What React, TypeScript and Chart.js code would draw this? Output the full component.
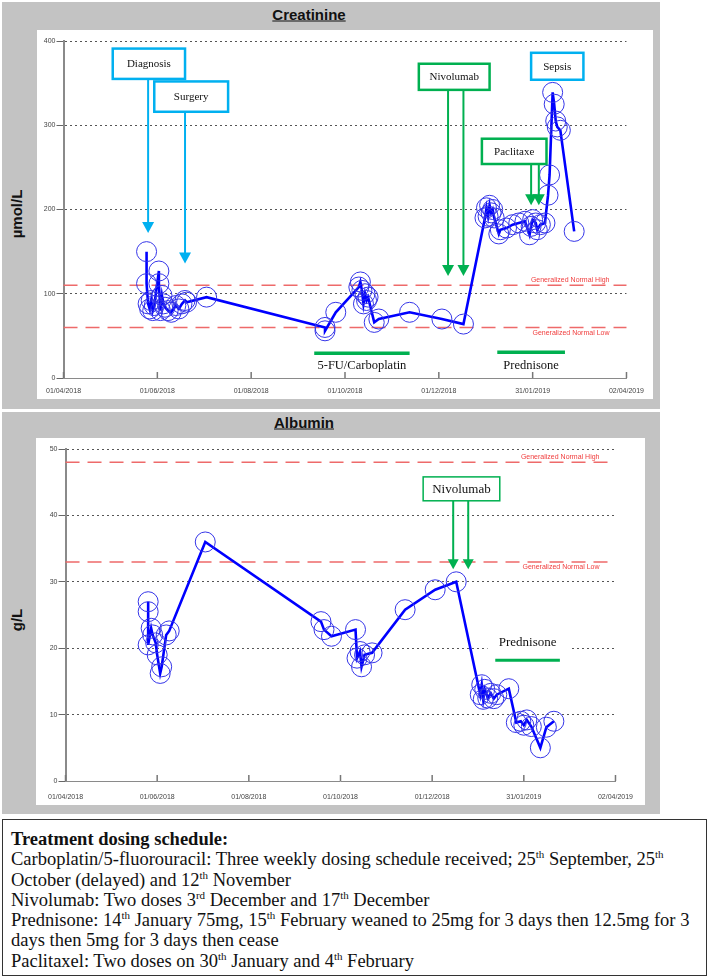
import React, { useEffect, useRef } from "react";
import { Chart, registerables } from "chart.js";

Chart.register(...registerables);

const SANS = "'Liberation Sans', Arial, sans-serif";
const SERIF = "'Liberation Serif', 'Times New Roman', serif";
const BLUE_CALLOUT = "#00B0F0";
const GREEN = "#00B050";

// ---------- shared x axis ----------
const xTickLabels = ["01/04/2018", "01/06/2018", "01/08/2018", "01/10/2018", "01/12/2018", "31/01/2019", "02/04/2019"];

// ---------- Creatinine (µmol/L) ----------
const creatinineDates = [
  "25/05/2018", "25/05/2018", "26/05/2018", "27/05/2018", "28/05/2018", "29/05/2018", "30/05/2018",
  "02/06/2018", "02/06/2018", "03/06/2018", "04/06/2018", "05/06/2018", "06/06/2018", "08/06/2018",
  "10/06/2018", "13/06/2018", "15/06/2018", "17/06/2018", "19/06/2018", "20/06/2018", "03/07/2018",
  "18/09/2018", "18/09/2018", "25/09/2018", "10/10/2018", "11/10/2018", "12/10/2018", "13/10/2018",
  "14/10/2018", "15/10/2018", "16/10/2018", "20/10/2018", "23/10/2018", "12/11/2018", "03/12/2018",
  "17/12/2018",
  "31/12/2018", "01/01/2019", "02/01/2019", "03/01/2019", "04/01/2019", "05/01/2019", "06/01/2019",
  "09/01/2019", "10/01/2019", "14/01/2019", "18/01/2019", "22/01/2019", "26/01/2019", "29/01/2019",
  "30/01/2019", "31/01/2019", "02/02/2019", "03/02/2019", "05/02/2019", "08/02/2019", "10/02/2019",
  "11/02/2019", "13/02/2019", "14/02/2019", "15/02/2019", "16/02/2019", "18/02/2019", "27/02/2019",
];
const creatinineValues = [
  150, 112, 88, 82, 92, 80, 86,
  127, 112, 80, 98, 88, 84, 80,
  78, 86, 82, 88, 92, 90, 96,
  60, 56, 78, 108, 114, 104, 88,
  100, 92, 96, 66, 70, 78, 70,
  64,
  190, 202, 192, 205, 196, 200, 190,
  171, 176, 178, 182, 184, 186, 170,
  180, 188, 184, 176, 182, 184, 217,
  241, 339, 325, 305, 298, 294, 174,
];
const creatinineNormalHigh = 110;
const creatinineNormalLow = 60;

// ---------- Albumin (g/L) ----------
const albuminDates = [
  "26/05/2018", "26/05/2018", "26/05/2018", "28/05/2018", "29/05/2018", "31/05/2018", "01/06/2018",
  "03/06/2018", "04/06/2018", "07/06/2018", "09/06/2018", "03/07/2018",
  "18/09/2018", "20/09/2018", "25/09/2018", "11/10/2018", "12/10/2018", "14/10/2018", "15/10/2018",
  "17/10/2018", "22/10/2018", "13/11/2018", "03/12/2018", "17/12/2018",
  "02/01/2019", "03/01/2019", "04/01/2019", "05/01/2019", "07/01/2019", "09/01/2019", "11/01/2019",
  "13/01/2019", "21/01/2019", "26/01/2019", "29/01/2019", "31/01/2019", "02/02/2019", "05/02/2019",
  "11/02/2019", "15/02/2019", "20/02/2019",
];
const albuminValues = [
  27, 25.5, 20.5, 23, 22, 20.8, 19,
  16.2, 17.2, 22, 22.6, 36,
  24, 22.8, 21.8, 22.8, 18.5, 19.5, 17.2,
  19, 19.3, 25.8, 28.8, 30,
  13, 14.5, 12.3, 13.8, 12.5, 13.2, 12.4,
  13, 13.9, 8.8, 9, 8.4, 9.2, 8.2,
  5, 8.1, 9,
];
const albuminNormalHigh = 48;
const albuminNormalLow = 33;

// ---------- annotations (placed in data space) ----------
const creatinineCallouts = [
  { text: "Diagnosis", color: BLUE_CALLOUT, from: "03/05/2018", to: "19/06/2018", top: 391, bottom: 355, arrows: ["26/05/2018"], tip: 172 },
  { text: "Surgery", color: BLUE_CALLOUT, from: "30/05/2018", to: "17/07/2018", top: 352, bottom: 316, arrows: ["19/06/2018"], tip: 136 },
  { text: "Nivolumab", color: GREEN, from: "18/11/2018", to: "03/01/2019", top: 373, bottom: 342, arrows: ["07/12/2018", "17/12/2018"], tip: 121 },
  { text: "Paclitaxe", color: GREEN, from: "29/12/2018", to: "09/02/2019", top: 284, bottom: 254, arrows: ["30/01/2019", "04/02/2019"], tip: 205 },
  { text: "Sepsis", color: BLUE_CALLOUT, from: "30/01/2019", to: "05/03/2019", top: 386, bottom: 354, arrows: [] as string[], tip: 0 },
];
const creatinineBars = [
  { text: "5-FU/Carboplatin", from: "11/09/2018", to: "12/11/2018", level: 29.5, labelLevel: 15, labelBg: false },
  { text: "Prednisone", from: "08/01/2019", to: "21/02/2019", level: 30.5, labelLevel: 15, labelBg: false },
];
const albuminCallouts = [
  { text: "Nivolumab", color: GREEN, from: "25/11/2018", to: "15/01/2019", top: 45.8, bottom: 42.2, arrows: ["15/12/2018", "25/12/2018"], tip: 31.9 },
];
const albuminBars = [
  { text: "Prednisone", from: "12/01/2019", to: "24/02/2019", level: 18.2, labelLevel: 20.9, labelBg: true },
];

// ---------- helpers ----------
const START = Date.UTC(2018, 3, 1);
function dayOf(s: string): number {
  const [d, m, y] = s.split("/").map(Number);
  return Math.round((Date.UTC(y, m - 1, d) - START) / 86400000);
}
const xTickDays = xTickLabels.map(dayOf);

const overlayPlugin = {
  id: "overlay",
  beforeDatasetsDraw(chart: any, _a: any, o: any) {
    const { ctx, chartArea: a } = chart;
    const x = chart.scales.x, y = chart.scales.y;
    ctx.save();
    for (const r of o.refs) {
      const py = y.getPixelForValue(r.value);
      ctx.strokeStyle = "#EE6A6A";
      ctx.lineWidth = 1.5;
      ctx.setLineDash([14, 8]);
      ctx.beginPath();
      ctx.moveTo(a.left, py);
      ctx.lineTo(a.right, py);
      ctx.stroke();
      ctx.setLineDash([]);
      ctx.fillStyle = "#F03C3C";
      ctx.font = `7px ${SANS}`;
      ctx.textAlign = "right";
      ctx.textBaseline = r.above ? "bottom" : "top";
      ctx.fillText(r.label, a.right - o.refLabelInset, r.above ? py - 1.5 : py + 2);
    }
    for (const b of o.bars) {
      const x0 = x.getPixelForValue(dayOf(b.from));
      const x1 = x.getPixelForValue(dayOf(b.to));
      const by = y.getPixelForValue(b.level);
      const ly = y.getPixelForValue(b.labelLevel);
      const cx = (x0 + x1) / 2;
      ctx.font = `${o.barFont}px ${SERIF}`;
      if (b.labelBg) {
        ctx.fillStyle = "#fff";
        ctx.fillRect(cx - 40, ly - 9, 84, 17);
      }
      ctx.strokeStyle = GREEN;
      ctx.lineWidth = o.barWidth;
      ctx.beginPath();
      ctx.moveTo(x0, by);
      ctx.lineTo(x1, by);
      ctx.stroke();
      ctx.fillStyle = "#111";
      ctx.textAlign = "center";
      ctx.textBaseline = "middle";
      ctx.fillText(b.text, cx, ly);
    }
    ctx.restore();
  },
  afterDatasetsDraw(chart: any, _a: any, o: any) {
    const { ctx } = chart;
    const x = chart.scales.x, y = chart.scales.y;
    ctx.save();
    for (const c of o.callouts) {
      const l = x.getPixelForValue(dayOf(c.from));
      const r = x.getPixelForValue(dayOf(c.to));
      const t = y.getPixelForValue(c.top);
      const b = y.getPixelForValue(c.bottom);
      ctx.strokeStyle = c.color;
      ctx.fillStyle = c.color;
      ctx.lineWidth = 2;
      for (const ad of c.arrows) {
        const ax = x.getPixelForValue(dayOf(ad));
        const ty = y.getPixelForValue(c.tip);
        const hh = o.head, hw = o.head / 2 + 0.5;
        ctx.beginPath();
        ctx.moveTo(ax, b);
        ctx.lineTo(ax, ty - hh + 1);
        ctx.stroke();
        ctx.beginPath();
        ctx.moveTo(ax - hw, ty - hh);
        ctx.lineTo(ax + hw, ty - hh);
        ctx.lineTo(ax, ty);
        ctx.closePath();
        ctx.fill();
      }
      ctx.fillStyle = "#fff";
      ctx.fillRect(l, t, r - l, b - t);
      ctx.lineWidth = o.boxBorder;
      ctx.strokeRect(l, t, r - l, b - t);
      ctx.fillStyle = "#111";
      ctx.font = `${o.boxFont}px ${SERIF}`;
      ctx.textAlign = "center";
      ctx.textBaseline = "middle";
      ctx.fillText(c.text, (l + r) / 2, (t + b) / 2 + 0.5);
    }
    ctx.restore();
  },
  afterDraw(chart: any) {
    const { ctx, chartArea: a } = chart;
    const x = chart.scales.x;
    ctx.save();
    ctx.strokeStyle = "#777";
    ctx.lineWidth = 1.5;
    for (const v of xTickDays) {
      const px = x.getPixelForValue(v);
      ctx.beginPath();
      ctx.moveTo(px, a.bottom);
      ctx.lineTo(px, a.bottom - 6);
      ctx.stroke();
    }
    ctx.restore();
  },
};

type ChartSpec = {
  dates: string[];
  values: number[];
  yMax: number;
  yStep: number;
  high: number;
  low: number;
  callouts: any[];
  bars: any[];
  yWidth: number;
  xHeight: number;
  padRight: number;
  xLabelPad: number;
  boxBorder: number;
  boxFont: number;
  head: number;
  barFont: number;
  barWidth: number;
  refLabelInset: number;
};

function makeConfig(s: ChartSpec): any {
  const tickFont = { family: SANS, size: 7 };
  return {
    type: "line",
    data: {
      datasets: [
        {
          data: s.dates.map((d, i) => ({ x: dayOf(d), y: s.values[i] })),
          borderColor: "#0000FF",
          borderWidth: 2.6,
          pointRadius: 10,
          pointHoverRadius: 10,
          pointBorderWidth: 1,
          pointBorderColor: "#3535E8",
          pointBackgroundColor: "rgba(0,0,0,0)",
          tension: 0,
          fill: false,
        },
      ],
    },
    options: {
      responsive: false,
      animation: false,
      events: [],
      layout: { padding: { top: 8, right: s.padRight, left: 0, bottom: 0 } },
      plugins: {
        legend: { display: false },
        tooltip: { enabled: false },
        overlay: {
          refs: [
            { value: s.high, label: "Generalized Normal High", above: true },
            { value: s.low, label: "Generalized Normal Low", above: false },
          ],
          callouts: s.callouts,
          bars: s.bars,
          boxBorder: s.boxBorder,
          boxFont: s.boxFont,
          head: s.head,
          barFont: s.barFont,
          barWidth: s.barWidth,
          refLabelInset: s.refLabelInset,
        },
      },
      scales: {
        x: {
          type: "linear",
          min: xTickDays[0],
          max: xTickDays[xTickDays.length - 1],
          afterBuildTicks: (sc: any) => {
            sc.ticks = xTickDays.map((v) => ({ value: v }));
          },
          afterFit: (sc: any) => {
            sc.height = s.xHeight;
          },
          ticks: {
            autoSkip: false,
            maxRotation: 0,
            minRotation: 0,
            padding: s.xLabelPad,
            font: tickFont,
            color: "#444",
            callback: (v: number) => xTickLabels[xTickDays.indexOf(v)] ?? "",
          },
          grid: { display: false, drawTicks: false, tickLength: 0 },
          border: { display: true, color: "#8a8a8a", width: 1 },
        },
        y: {
          min: 0,
          max: s.yMax,
          afterFit: (sc: any) => {
            sc.width = s.yWidth;
          },
          ticks: { stepSize: s.yStep, padding: 1, font: tickFont, color: "#444" },
          grid: {
            color: (c: any) => (c.tick && c.tick.value === 0 ? "rgba(0,0,0,0)" : "#555"),
            lineWidth: 1,
            tickLength: 7,
            tickColor: "#666",
            tickWidth: 1,
          },
          border: { display: true, color: "#8a8a8a", width: 2, dash: [2, 3] },
        },
      },
    },
    plugins: [overlayPlugin],
  };
}

function LabChart({ spec, left, top, width, height }: { spec: ChartSpec; left: number; top: number; width: number; height: number }) {
  const ref = useRef<HTMLCanvasElement>(null);
  useEffect(() => {
    const chart = new Chart(ref.current as HTMLCanvasElement, makeConfig(spec));
    return () => chart.destroy();
  }, []);
  return (
    <canvas
      ref={ref}
      width={width}
      height={height}
      style={{ position: "absolute", left, top, width, height, background: "#fff", display: "block" }}
    />
  );
}

const creatinineSpec: ChartSpec = {
  dates: creatinineDates,
  values: creatinineValues,
  yMax: 400,
  yStep: 100,
  high: creatinineNormalHigh,
  low: creatinineNormalLow,
  callouts: creatinineCallouts,
  bars: creatinineBars,
  yWidth: 25,
  xHeight: 21,
  padRight: 24,
  xLabelPad: 9,
  boxBorder: 2.5,
  boxFont: 11,
  head: 11,
  barFont: 12.5,
  barWidth: 3.5,
  refLabelInset: 17,
};

const albuminSpec: ChartSpec = {
  dates: albuminDates,
  values: albuminValues,
  yMax: 50,
  yStep: 10,
  high: albuminNormalHigh,
  low: albuminNormalLow,
  callouts: albuminCallouts,
  bars: albuminBars,
  yWidth: 23,
  xHeight: 24,
  padRight: 25,
  xLabelPad: 12,
  boxBorder: 1.5,
  boxFont: 13,
  head: 10,
  barFont: 13,
  barWidth: 3,
  refLabelInset: 16,
};

const sup: React.CSSProperties = { fontSize: 11, position: "relative", top: -7, lineHeight: 0 };

export default function App() {
  const panelTitle: React.CSSProperties = {
    position: "absolute",
    fontFamily: SANS,
    fontWeight: "bold",
    fontSize: 15,
    textDecoration: "underline",
    transform: "translate(-50%, -50%)",
    whiteSpace: "nowrap",
    color: "#111",
  };
  const axisTitle: React.CSSProperties = {
    position: "absolute",
    fontFamily: SANS,
    fontWeight: "bold",
    fontSize: 15,
    transform: "translate(-50%, -50%) rotate(-90deg)",
    whiteSpace: "nowrap",
    color: "#111",
  };
  return (
    <div style={{ position: "absolute", left: 0, top: 0, width: 709, height: 980, background: "#fff", overflow: "hidden" }}>
      {/* Creatinine panel */}
      <div style={{ position: "absolute", left: 2, top: 2, width: 658, height: 407, background: "#C3C3C3" }} />
      <div style={{ ...panelTitle, left: 309, top: 14 }}>Creatinine</div>
      <div style={{ ...axisTitle, left: 16, top: 214 }}>µmol/L</div>
      <LabChart spec={creatinineSpec} left={37} top={30} width={616} height={369} />

      {/* Albumin panel */}
      <div style={{ position: "absolute", left: 2, top: 412, width: 658, height: 402, background: "#C3C3C3" }} />
      <div style={{ ...panelTitle, left: 304, top: 422 }}>Albumin</div>
      <div style={{ ...axisTitle, left: 16, top: 620 }}>g/L</div>
      <LabChart spec={albuminSpec} left={36} top={438} width={609} height={367} />

      {/* Treatment text box */}
      <div
        style={{
          position: "absolute",
          left: 2,
          top: 819,
          width: 705,
          height: 157,
          boxSizing: "border-box",
          border: "1.5px solid #333",
          padding: "9px 0 0 8px",
          fontFamily: SERIF,
          fontSize: 18.5,
          lineHeight: "20.3px",
          color: "#111",
          whiteSpace: "nowrap",
        }}
      >
        <div style={{ fontWeight: "bold" }}>Treatment dosing schedule:</div>
        <div>
          Carboplatin/5-fluorouracil: Three weekly dosing schedule received; 25<span style={sup}>th</span> September, 25<span style={sup}>th</span>
        </div>
        <div>
          October (delayed) and 12<span style={sup}>th</span> November
        </div>
        <div>
          Nivolumab: Two doses 3<span style={sup}>rd</span> December and 17<span style={sup}>th</span> December
        </div>
        <div>
          Prednisone: 14<span style={sup}>th</span> January 75mg, 15<span style={sup}>th</span> February weaned to 25mg for 3 days then 12.5mg for 3
        </div>
        <div>days then 5mg for 3 days then cease</div>
        <div>
          Paclitaxel: Two doses on 30<span style={sup}>th</span> January and 4<span style={sup}>th</span> February
        </div>
      </div>
    </div>
  );
}
